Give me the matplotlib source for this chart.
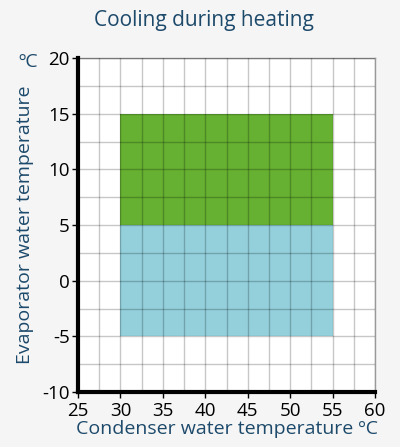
import numpy as np
import matplotlib
matplotlib.use("Agg")
import matplotlib.pyplot as plt
from matplotlib.ticker import MultipleLocator

# operating envelope (condenser x range, evaporator y range)
zones = ["cooling", "heating"]
cond_lo = [30, 30]
cond_hi = [55, 55]
evap_lo = [5, -5]
evap_hi = [15, 5]
zone_colors = ["#66b032", "#93d0dc"]

xticks = [25, 30, 35, 40, 45, 50, 55, 60]
yticks = [-10, -5, 0, 5, 10, 15, 20]

plt.rcParams["font.family"] = ["Open Sans", "DejaVu Sans"]
plt.rcParams["axes.unicode_minus"] = False
navy = "#1d4a6b"

fig = plt.figure(figsize=(4.0, 4.47), dpi=100, facecolor="#f5f5f5")
ax = fig.add_axes([0.195, 0.123, 0.7425, 0.747])
ax.set_facecolor("white")

for i in range(len(zones)):
    ax.fill_between([cond_lo[i], cond_hi[i]], evap_lo[i], evap_hi[i],
                    color=zone_colors[i], lw=0, zorder=1)

ax.set_xlim(25, 60)
ax.set_ylim(-10, 20)
ax.xaxis.set_minor_locator(MultipleLocator(2.5))
ax.yaxis.set_minor_locator(MultipleLocator(2.5))
ax.set_xticks(xticks)
ax.set_yticks(yticks)
ax.grid(which="both", color="black", alpha=0.22, lw=1, zorder=2)
ax.set_axisbelow(False)
ax.tick_params(which="minor", length=0)
ax.tick_params(which="major", length=4, width=1, labelsize=13.5, colors="black")
ax.tick_params(axis="x", pad=3)
ax.tick_params(axis="y", pad=2)

for s in ["left", "bottom"]:
    ax.spines[s].set_linewidth(3)
    ax.spines[s].set_color("black")
    ax.spines[s].set_zorder(5)
for s in ["top", "right"]:
    ax.spines[s].set_linewidth(1)
    ax.spines[s].set_color("#999999")

fig.text(0.51, 0.955, "Cooling during heating", color=navy, fontsize=15,
         ha="center", va="center")
ax.set_xlabel("Condenser water temperature ºC", color=navy, fontsize=14, labelpad=0)
ax.set_ylabel("Evaporator water temperature", color=navy, fontsize=14, labelpad=6)
fig.text(0.07, 0.862, "ºC", color=navy, fontsize=14, ha="center", va="center")

fig.savefig("out.png", dpi=100, facecolor=fig.get_facecolor())
